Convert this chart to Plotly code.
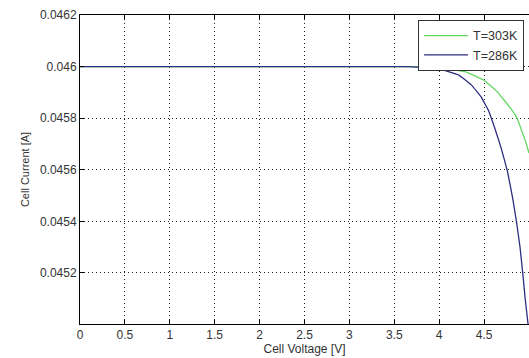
import plotly.graph_objects as go

# Cell I-V characteristics at two temperatures
v_303 = [0.0, 1.0, 2.0, 3.0, 3.5, 3.7, 4.0, 4.29, 4.5, 4.65, 4.8, 4.87, 4.92, 4.96, 5.0]
i_303 = [0.046, 0.046, 0.046, 0.046, 0.046, 0.046, 0.045996, 0.04598, 0.045947,
         0.045901, 0.045836, 0.045798, 0.04575, 0.045712, 0.045665]

v_286 = [0.0, 1.0, 2.0, 3.0, 3.5, 3.7, 4.0, 4.22, 4.36, 4.47, 4.55, 4.62, 4.69, 4.76,
         4.82, 4.86, 4.9, 4.93, 4.96, 4.99]
i_286 = [0.046, 0.046, 0.046, 0.046, 0.046, 0.045999, 0.045991, 0.045967, 0.045928,
         0.045881, 0.045829, 0.04576, 0.045684, 0.045594, 0.045486, 0.0454, 0.0453,
         0.0452, 0.045092, 0.045]

x_ticks = [0, 0.5, 1, 1.5, 2, 2.5, 3, 3.5, 4, 4.5, 5]
x_tick_text = ["0", "0.5", "1", "1.5", "2", "2.5", "3", "3.5", "4", "4.5", "5"]
y_ticks = [0.0452, 0.0454, 0.0456, 0.0458, 0.046, 0.0462]
y_tick_text = ["0.0452", "0.0454", "0.0456", "0.0458", "0.046", "0.0462"]

FONT = "Liberation Sans, Arial, sans-serif"
TEXT = "#333333"

fig = go.Figure()
fig.add_trace(go.Scatter(x=v_303, y=i_303, mode="lines", name="T=303K",
                         line=dict(color="#62d862", width=1.3, shape="spline", smoothing=0.2)))
fig.add_trace(go.Scatter(x=v_286, y=i_286, mode="lines", name="T=286K",
                         line=dict(color="#2e2e80", width=1.3, shape="spline", smoothing=0.2)))

axis_common = dict(
    showline=True, linecolor="black", linewidth=1,
    ticks="inside", ticklen=4, tickcolor="black",
    showgrid=True, gridcolor="#222222", griddash="1px,3px", gridwidth=1,
    zeroline=False,
    tickfont=dict(family=FONT, size=12, color=TEXT),
)

fig.update_layout(
    width=529, height=358,
    margin=dict(l=80, r=0, t=15, b=34),
    paper_bgcolor="white", plot_bgcolor="white",
    font=dict(family=FONT, size=12, color=TEXT),
    showlegend=True,
    legend=dict(
        x=0.753, y=0.984, xanchor="left", yanchor="top",
        bgcolor="white", bordercolor="#333333", borderwidth=1,
        font=dict(family=FONT, size=12.5, color=TEXT),
        tracegroupgap=0, itemwidth=44,
    ),
    xaxis=dict(
        axis_common,
        range=[0, 5], tickvals=x_ticks, ticktext=x_tick_text,
        mirror="ticks",
        title=dict(text="Cell Voltage [V]", standoff=2,
                   font=dict(family=FONT, size=12, color=TEXT)),
    ),
    yaxis=dict(
        axis_common,
        range=[0.045002, 0.0462], tickvals=y_ticks, ticktext=y_tick_text,
        title=dict(text="Cell Current [A]", standoff=8,
                   font=dict(family=FONT, size=11, color=TEXT)),
    ),
)

fig.write_html("out.html")
